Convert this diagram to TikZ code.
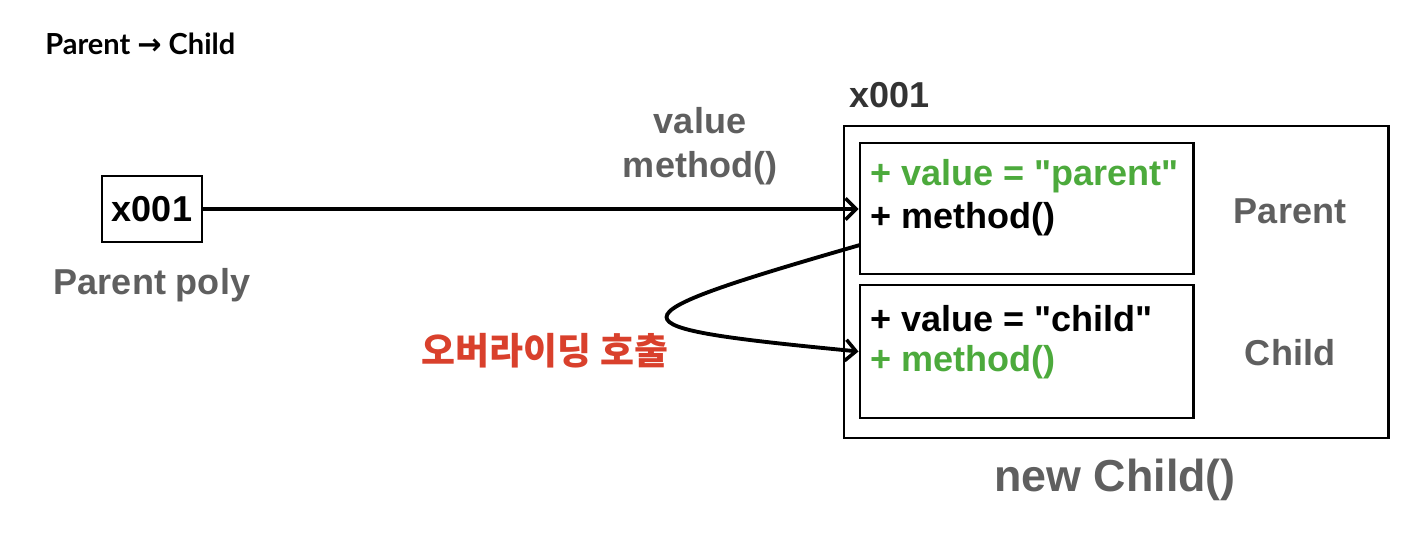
\documentclass[tikz,border=0pt]{standalone}
\usepackage{fontspec}
\setmainfont{Liberation Sans}[Ligatures=TeXOff]
\newfontfamily\titlefont{Lato}
\newfontfamily\arrowfont{DejaVu Sans}
\newfontfamily\cjk{Noto Sans CJK KR}
\usetikzlibrary{arrows.meta}
\definecolor{labelgray}{HTML}{5F5F5F}
\definecolor{fieldgreen}{HTML}{4CAA3C}
\definecolor{callred}{HTML}{D9402C}
\tikzset{
  membox/.style={draw, line width=1.7pt, inner sep=0pt},
  refline/.style={line width=2.2pt, -{Straight Barb[length=6pt,width=12pt,line width=2pt]}},
  txt/.style={font=\fontsize{20.5}{24}\selectfont\bfseries, inner sep=0pt},
}
\begin{document}
\begin{tikzpicture}[x=0.02cm, y=-0.02cm]
    \useasboundingbox (0,0) rectangle (1418,540);

    % Title
    \node[anchor=west, inner sep=0pt, font=\fontsize{16.5}{19}\selectfont\bfseries] (title) at (45,44)
      {\titlefont Parent {\arrowfont →} Child};

    % Reference variable
    \node[membox, minimum width=100*0.02cm, minimum height=66*0.02cm, txt] (xbox) at (152,209) {x001};
    \node[txt, text=labelgray] (poly) at (152,285) {Parent poly};

    % Instance
    \node[membox, minimum width=544*0.02cm, minimum height=312*0.02cm] (obj) at (1116,282) {};
    \node[txt, text=black!80, anchor=west] (addr) at (849,95) {x001};
    \node[txt, text=labelgray, font=\fontsize{25.5}{30}\selectfont\bfseries] (newchild) at (1115,480) {new Child()};

    % Parent part
    \node[membox, minimum width=333*0.02cm, minimum height=131*0.02cm] (pbox) at (1026.5,208.5) {};
    \node[txt, anchor=west, text=fieldgreen] (pval) at (870,176) {+ value = "parent"};
    \node[txt, anchor=west] (pmeth) at (870,219) {+ method()};
    \node[txt, text=labelgray] (plabel) at (1290,211) {Parent};

    % Child part
    \node[membox, minimum width=333*0.02cm, minimum height=133*0.02cm] (cbox) at (1026.5,351.5) {};
    \node[txt, anchor=west] (cval) at (870,319) {+ value = "child"};
    \node[txt, anchor=west, text=fieldgreen] (cmeth) at (870,362) {+ method()};
    \node[txt, text=labelgray] (clabel) at (1290,353) {Child};

    % Reference arrow
    \node[txt, text=labelgray, align=center, font=\fontsize{20.5}{25}\selectfont\bfseries] (access) at (700,146) {value\\method()};
    \draw[refline] (xbox.east) -- (pbox.west |- xbox.east);

    % Overriding call
    \coordinate (callstart) at (860,245);
    \draw[refline] (callstart) .. controls (600,320) and (606,327) .. (cbox.west);
    \node[inner sep=0pt, text=callred, font=\fontsize{21}{25}\selectfont\bfseries] (override) at (545,351) {\cjk 오버라이딩 호출};
  \end{tikzpicture}
\end{document}
